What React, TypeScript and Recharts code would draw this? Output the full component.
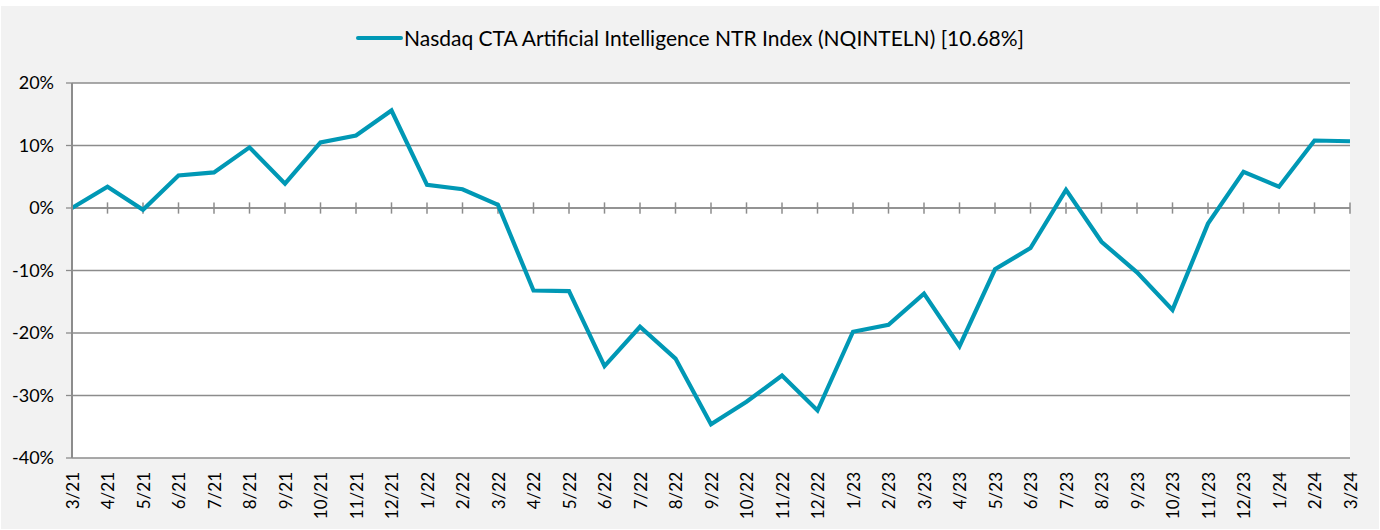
import React from 'react';
import { LineChart, Line, XAxis, YAxis, CartesianGrid, ReferenceLine, Legend } from 'recharts';

const months = [
  '3/21', '4/21', '5/21', '6/21', '7/21', '8/21', '9/21', '10/21', '11/21', '12/21',
  '1/22', '2/22', '3/22', '4/22', '5/22', '6/22', '7/22', '8/22', '9/22', '10/22', '11/22', '12/22',
  '1/23', '2/23', '3/23', '4/23', '5/23', '6/23', '7/23', '8/23', '9/23', '10/23', '11/23', '12/23',
  '1/24', '2/24', '3/24',
];

const indexReturns = [
  0, 3.4, -0.3, 5.2, 5.7, 9.7, 3.9, 10.5, 11.6, 15.6,
  3.7, 3.0, 0.5, -13.2, -13.3, -25.3, -19.0, -24.1, -34.6, -31.0, -26.8, -32.4,
  -19.8, -18.7, -13.7, -22.1, -9.8, -6.4, 2.9, -5.4, -10.3, -16.3, -2.5, 5.8,
  3.4, 10.8, 10.68,
];

const yTicks = [-40, -30, -20, -10, 0, 10, 20];

const seriesName = 'Nasdaq CTA Artificial Intelligence NTR Index (NQINTELN) [10.68%]';

const data = months.map((m, i) => ({ month: m, value: indexReturns[i] }));

const FONT = 'Lato, "Open Sans", sans-serif';
const LINE_COLOR = '#0098b5';
const GRID = '#8c8c8c';

// rotated month labels under the plot
const MonthTick = (props: any) => {
  const { x, y, payload } = props;
  const ty = y + 14;
  return (
    <text
      x={x}
      y={ty}
      transform={`rotate(-90, ${x}, ${ty})`}
      textAnchor="end"
      dominantBaseline="central"
      fontSize={17}
      fontFamily={FONT}
      fill="#000"
    >
      {payload.value}
    </text>
  );
};

const LegendContent = () => (
  <div style={{ display: 'flex', justifyContent: 'center', alignItems: 'center', fontFamily: FONT, fontSize: 21, color: '#000' }}>
    <svg width={47} height={10} style={{ marginRight: 1 }}>
      <line x1={2} y1={5} x2={45} y2={5} stroke={LINE_COLOR} strokeWidth={4} strokeLinecap="round" />
    </svg>
    <span>{seriesName}</span>
  </div>
);

export default function App() {
  return (
    <div style={{ position: 'absolute', left: 1, top: 6, width: 1378, height: 523, background: '#f2f2f2' }}>
      <LineChart width={1378} height={523} data={data} margin={{ top: 52, right: 29, left: 0, bottom: 0 }}>
        <CartesianGrid horizontal vertical={false} stroke={GRID} strokeWidth={1.3} fill="#fff" />
        <Legend verticalAlign="top" content={<LegendContent />} wrapperStyle={{ top: 19, left: 0, width: 1378 }} />
        <XAxis
          dataKey="month"
          interval={0}
          axisLine={false}
          tickLine={false}
          tickSize={0}
          tickMargin={0}
          height={71}
          tick={<MonthTick />}
        />
        <YAxis
          domain={[-40, 20]}
          ticks={yTicks}
          interval={0}
          width={71}
          tickFormatter={(v: number) => `${v}%`}
          axisLine={{ stroke: GRID, strokeWidth: 2 }}
          tickLine={{ stroke: GRID, strokeWidth: 1.3 }}
          tickSize={6}
          tickMargin={12}
          tick={{ fontSize: 18, fontFamily: FONT, fill: '#000' }}
        />
        <YAxis
          yAxisId="right"
          orientation="right"
          domain={[-40, 20]}
          width={0}
          tick={false}
          tickLine={false}
          axisLine={{ stroke: GRID, strokeWidth: 2 }}
        />
        <ReferenceLine y={0} stroke={GRID} strokeWidth={1.5} />
        {months.map((m) => (
          <ReferenceLine
            key={m}
            segment={[{ x: m, y: -0.9 }, { x: m, y: 0.9 }]}
            stroke={GRID}
            strokeWidth={1.5}
          />
        ))}
        <Line
          type="linear"
          dataKey="value"
          name={seriesName}
          stroke={LINE_COLOR}
          strokeWidth={4.2}
          dot={false}
          isAnimationActive={false}
        />
      </LineChart>
    </div>
  );
}
